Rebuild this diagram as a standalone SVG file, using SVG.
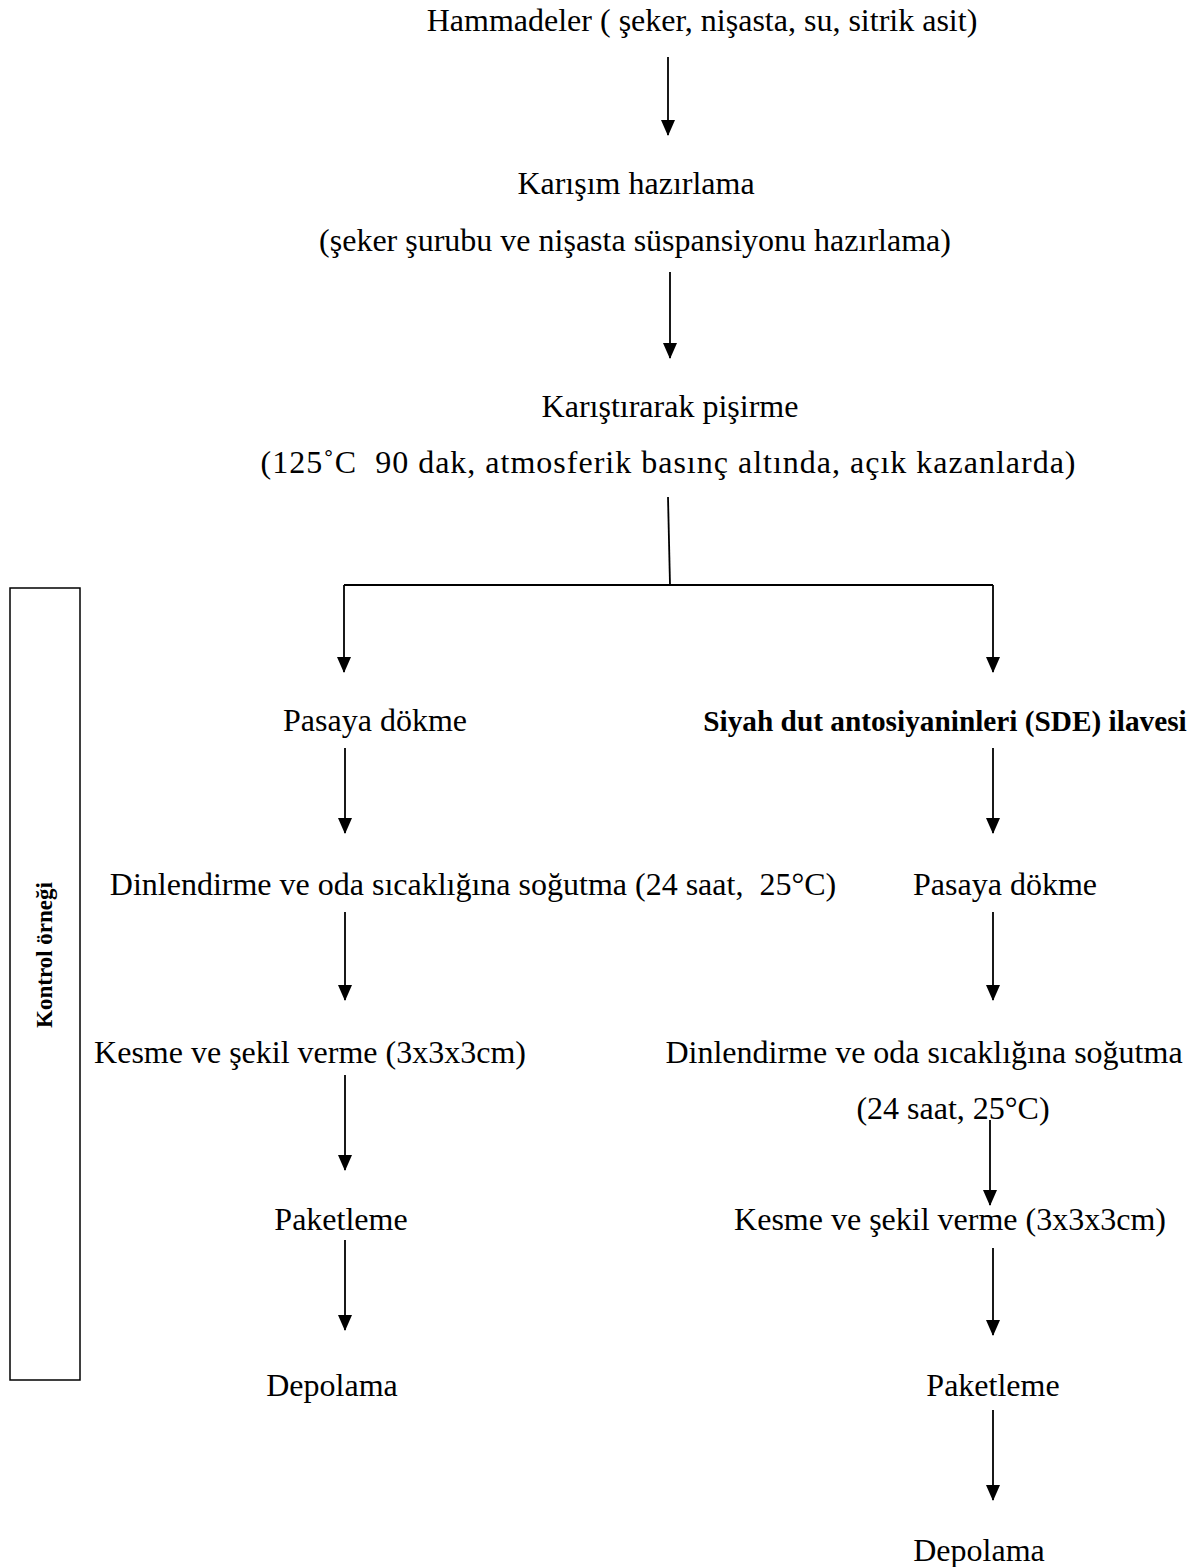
<svg xmlns="http://www.w3.org/2000/svg" width="1200" height="1567" viewBox="0 0 1200 1567">
<style>
.t{font-family:"Liberation Serif","Times New Roman",serif;font-size:32px;fill:#000;text-anchor:middle}
.b{font-weight:bold;font-size:29.3px}
.ln{stroke:#000;stroke-width:1.8;fill:none}
.ar{stroke:#000;stroke-width:1.8;fill:none;marker-end:url(#ah)}
</style>
<defs>
<marker id="ah" markerUnits="userSpaceOnUse" markerWidth="16" markerHeight="14" viewBox="0 0 16 14" refX="15" refY="7" orient="auto">
<path d="M0,0 L16,7 L0,14 Z" fill="#000"/>
</marker>
</defs>
<rect width="1200" height="1567" fill="#fff"/>
<g id="connectors">
<line class="ar" x1="668" y1="57" x2="668" y2="135"/>
<line class="ar" x1="670" y1="272" x2="670" y2="358"/>
<line class="ln" x1="668" y1="497" x2="670" y2="585"/>
<line class="ln" x1="344" y1="585" x2="993" y2="585"/>
<line class="ar" x1="344" y1="585" x2="344" y2="672"/>
<line class="ar" x1="993" y1="585" x2="993" y2="672"/>
<line class="ar" x1="345" y1="748" x2="345" y2="833"/>
<line class="ar" x1="993" y1="748" x2="993" y2="833"/>
<line class="ar" x1="345" y1="912" x2="345" y2="1000"/>
<line class="ar" x1="993" y1="912" x2="993" y2="1000"/>
<line class="ar" x1="345" y1="1075" x2="345" y2="1170"/>
<line class="ar" x1="990" y1="1120" x2="990" y2="1205"/>
<line class="ar" x1="345" y1="1240" x2="345" y2="1330"/>
<line class="ar" x1="993" y1="1248" x2="993" y2="1335"/>
<line class="ar" x1="993" y1="1410" x2="993" y2="1500"/>
</g>
<g id="n-hammadeler"><text class="t" x="702" y="31">Hammadeler ( şeker, nişasta, su, sitrik asit)</text></g>
<g id="n-karisim"><text class="t" x="636" y="194">Karışım hazırlama</text><text class="t" x="635" y="251">(şeker şurubu ve nişasta süspansiyonu hazırlama)</text></g>
<g id="n-pisirme"><text class="t" x="670" y="417">Karıştırarak pişirme</text><text class="t" x="668" y="473" textLength="815" lengthAdjust="spacing" xml:space="preserve">(125˚C  90 dak, atmosferik basınç altında, açık kazanlarda)</text></g>
<g id="n-kontrol"><rect x="10" y="588" width="70" height="792" fill="none" stroke="#000" stroke-width="1.5"/><text class="t" style="font-weight:bold;font-size:23px" transform="translate(52 955) rotate(-90)">Kontrol örneği</text></g>
<g id="n-l-pasaya"><text class="t" x="375" y="731">Pasaya dökme</text></g>
<g id="n-l-dinlendirme"><text class="t" x="473" y="895" xml:space="preserve">Dinlendirme ve oda sıcaklığına soğutma (24 saat,  25°C)</text></g>
<g id="n-l-kesme"><text class="t" x="310" y="1063">Kesme ve şekil verme (3x3x3cm)</text></g>
<g id="n-l-paketleme"><text class="t" x="341" y="1230">Paketleme</text></g>
<g id="n-l-depolama"><text class="t" x="332" y="1396">Depolama</text></g>
<g id="n-r-sde"><text class="t b" x="945" y="731">Siyah dut antosiyaninleri (SDE) ilavesi</text></g>
<g id="n-r-pasaya"><text class="t" x="1005" y="895">Pasaya dökme</text></g>
<g id="n-r-dinlendirme"><text class="t" x="924" y="1063">Dinlendirme ve oda sıcaklığına soğutma</text><text class="t" x="953" y="1119">(24 saat, 25°C)</text></g>
<g id="n-r-kesme"><text class="t" x="950" y="1230">Kesme ve şekil verme (3x3x3cm)</text></g>
<g id="n-r-paketleme"><text class="t" x="993" y="1396">Paketleme</text></g>
<g id="n-r-depolama"><text class="t" x="979" y="1561">Depolama</text></g>
</svg>
